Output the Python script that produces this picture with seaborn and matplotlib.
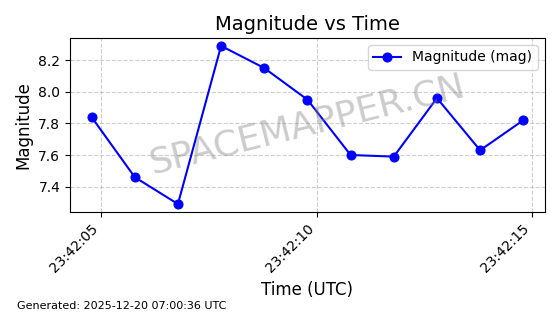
import matplotlib
matplotlib.use("Agg")
import matplotlib.pyplot as plt
import matplotlib.dates as mdates
import seaborn as sns
import pandas as pd

times = ["2025-12-19 23:42:04.79", "2025-12-19 23:42:05.79", "2025-12-19 23:42:06.79",
         "2025-12-19 23:42:07.79", "2025-12-19 23:42:08.79", "2025-12-19 23:42:09.79",
         "2025-12-19 23:42:10.79", "2025-12-19 23:42:11.79", "2025-12-19 23:42:12.79",
         "2025-12-19 23:42:13.79", "2025-12-19 23:42:14.79"]
magnitude = [7.84, 7.46, 7.29, 8.29, 8.15, 7.95, 7.60, 7.59, 7.96, 7.63, 7.82]

df = pd.DataFrame({"time": pd.to_datetime(times), "mag": magnitude})

plt.rcParams['font.family'] = ['DejaVu Sans']

fig, ax = plt.subplots(figsize=(5.6, 3.14), dpi=100)
fig.subplots_adjust(left=0.125, right=0.973, top=0.879, bottom=0.325)

sns.lineplot(data=df, x="time", y="mag", marker="o", color="blue", markersize=6.5,
             markeredgecolor="blue", linewidth=1.5, label="Magnitude (mag)", ax=ax)

ax.set_title("Magnitude vs Time", fontsize=14)
ax.set_xlabel("Time (UTC)", fontsize=12)
ax.set_ylabel("Magnitude", fontsize=12)
ax.xaxis.set_major_locator(mdates.SecondLocator(bysecond=[5, 10, 15]))
ax.xaxis.set_major_formatter(mdates.DateFormatter("%H:%M:%S"))
plt.setp(ax.get_xticklabels(), rotation=45, ha="right")
ax.tick_params(axis="both", labelsize=10)
ax.grid(True, linestyle="--", alpha=0.6)
ax.legend(loc="upper right", fontsize=10)

ax.text(0.5, 0.5, "SPACEMAPPER.CN", transform=ax.transAxes, fontsize=26,
        color="gray", alpha=0.4, ha="center", va="center", rotation=14)
fig.text(0.03, 0.015, "Generated: 2025-12-20 07:00:36 UTC", fontsize=8)

fig.savefig("out.png", dpi=100)
